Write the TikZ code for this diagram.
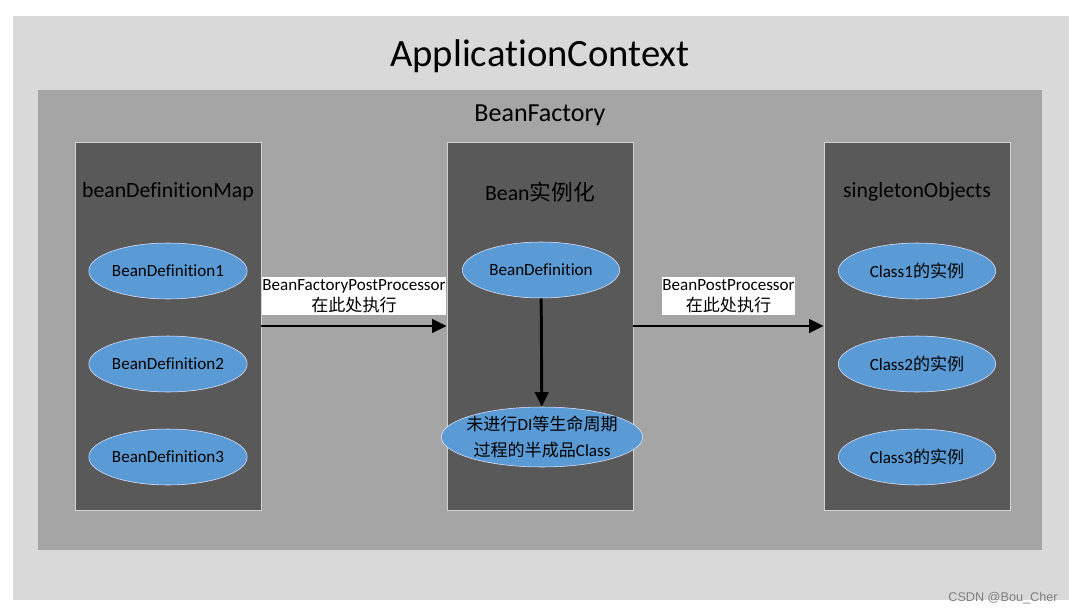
\documentclass[tikz,border=0pt]{standalone}
\usepackage{fontspec}
\setmainfont[Ligatures=NoCommon]{Carlito}
\newfontfamily\cjk{Noto Sans CJK SC}
\newfontfamily\markfont{Liberation Sans}
\usetikzlibrary{arrows.meta,shapes.geometric}
\definecolor{ctxgray}{HTML}{D9D9D9}
\definecolor{factorygray}{HTML}{A5A5A5}
\definecolor{colgray}{HTML}{595959}
\definecolor{beanblue}{HTML}{5B9BD5}

\begin{document}
\begin{tikzpicture}[x=0.75pt,y=-0.75pt,
		colbox/.style={draw=gray!35,fill=colgray,minimum width=139.5pt,minimum height=276pt,inner sep=0pt},
		coltitle/.style={font=\fontsize{16.3}{19}\selectfont},
		bean/.style={ellipse,fill=beanblue,draw=blue!10!white,thin,minimum width=118pt,minimum height=42pt,inner sep=0pt,font=\fontsize{12.8}{15}\selectfont},
		flow/.style={line width=2.2pt,-{Triangle[length=11pt,width=10pt]}},
		flowlabel/.style={fill=white,align=center,inner xsep=0pt,inner ysep=2pt,font=\fontsize{12.8}{15.75}\selectfont}]
	\useasboundingbox (0,0) rectangle (1075,614);
	% ApplicationContext and BeanFactory
	\draw[fill=ctxgray,draw=gray!30] (13,16) rectangle (1068,599);
	\node[font=\fontsize{29}{34}\selectfont] (ctx) at (540,56) {ApplicationContext};
	\draw[fill=factorygray,draw=none] (38,90) rectangle (1042,550);
	\node[font=\fontsize{19.5}{23}\selectfont] (factory) at (540,115) {BeanFactory};
	% three columns
	\node[colbox] (mapcol) at (168,326) {};
	\node[colbox] (instcol) at (540,326) {};
	\node[colbox] (singlecol) at (917,326) {};
	\node[coltitle] (maptitle) at (168,192) {beanDefinitionMap};
	\node[coltitle] (insttitle) at (540,192) {Bean{\cjk 实例化}};
	\node[coltitle] (singletitle) at (917,192) {singletonObjects};
	% bean definitions
	\foreach \i/\y in {1/271,2/364,3/457}
		\node[bean] (def\i) at (168,\y) {BeanDefinition\i};
	% instances
	\foreach \i/\y in {1/271,2/364,3/457}
		\node[bean] (obj\i) at (917,\y) {Class\i{\cjk 的实例}};
	% instantiation
	\node[bean] (onedef) at (541,270) {BeanDefinition};
	\node[bean,minimum width=151pt,minimum height=45pt,inner xsep=-9pt,inner ysep=-4pt,align=center,font=\fontsize{12.8}{19.5}\selectfont] (half) at (542,437)
		{{\cjk 未进行}DI{\cjk 等生命周期}\\{\cjk 过程的半成品}Class};
	\draw[flow] (onedef) -- (half);
	% post processors
	\coordinate (lvl) at (0,326);
	\draw[flow] (mapcol.east |- lvl) -- (instcol.west |- lvl)
		node[flowlabel,midway,above=7pt] (bfpp) {BeanFactoryPostProcessor\\{\cjk 在此处执行}};
	\draw[flow] (instcol.east |- lvl) -- (singlecol.west |- lvl)
		node[flowlabel,midway,above=7pt] (bpp) {BeanPostProcessor\\{\cjk 在此处执行}};
	% watermark
	\node[text=gray,font=\fontsize{9.5}{11}\markfont] (mark) at (1003,598) {CSDN @Bou\_Cher};
\end{tikzpicture}
\end{document}
